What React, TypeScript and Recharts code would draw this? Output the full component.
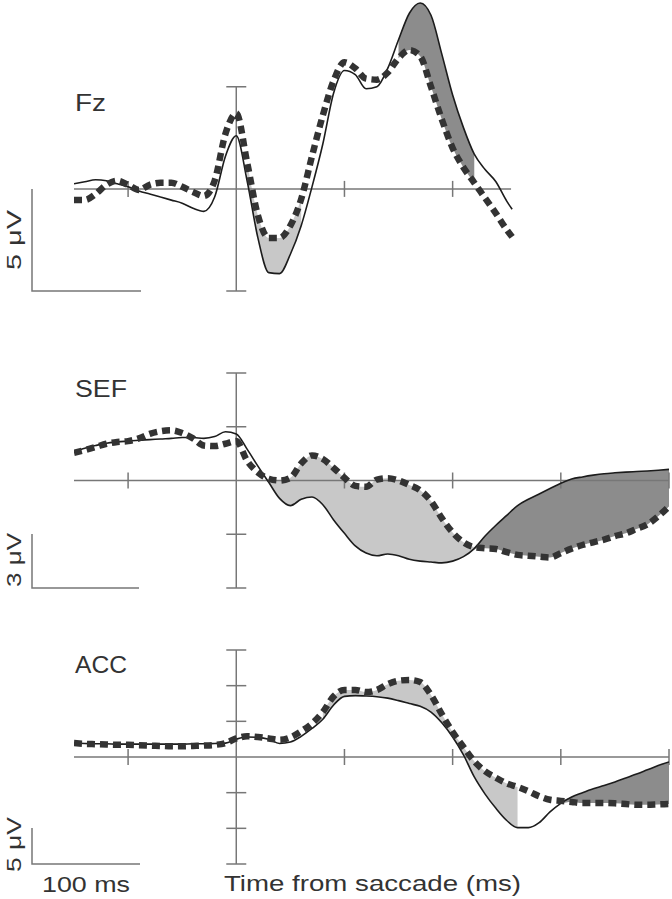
import { Area, ComposedChart, Line, ReferenceLine, XAxis, YAxis } from 'recharts';

// Time from saccade (ms), values in µV.
const FZ_TIME = [
  -150, -140, -130, -120, -110, -100, -90, -80, -70, -60, -50, -40, -30, -20, -10, 0, 10, 20, 30, 40, 50,
  60, 70, 80, 90, 100, 110, 120, 130, 140, 150, 160, 170, 180, 190, 200, 210, 220, 230, 240, 250, 255,
];
const FZ_SOLID = [
  0.25, 0.35, 0.45, 0.4, 0.25, 0.1, -0.1, -0.25, -0.4, -0.55, -0.7, -0.95, -1.1, -0.4, 1.6, 2.6, 0.4, -2.4,
  -4.1, -4.15, -3.2, -1.8, 0.1, 2.2, 4.7, 5.8, 5.6, 4.9, 5.0, 5.9, 7.3, 8.6, 9.1, 8.5, 6.6, 4.6, 3.0, 1.7,
  0.95, 0.35, -0.6, -1.0,
];
const FZ_DASHED = [
  -0.54, -0.54, -0.25, 0.2, 0.4, 0.2, -0.05, 0.2, 0.3, 0.3, 0.1, -0.15, -0.35, 0.4, 2.7, 3.7, 1.3, -1.3,
  -2.4, -2.4, -1.8, -0.5, 1.6, 3.6, 5.3, 6.2, 5.9, 5.4, 5.35, 5.7, 6.4, 6.8, 6.5, 5.0, 3.4, 2.0, 1.05, 0.3,
  -0.45, -1.2, -2.0, -2.35,
];

const TIME = [
  -150, -140, -130, -120, -110, -100, -90, -80, -70, -60, -50, -40, -30, -20, -10, 0, 10, 20, 30, 40, 50,
  60, 70, 80, 90, 100, 110, 120, 130, 140, 150, 160, 170, 180, 190, 200, 210, 220, 230, 240, 250, 260, 270,
  280, 290, 300, 310, 320, 330, 340, 350, 360, 370, 380, 390, 400,
];
const SEF_SOLID = [
  1.6, 1.8, 1.95, 2.08, 2.15, 2.2, 2.25, 2.28, 2.32, 2.35, 2.4, 2.4, 2.35, 2.45, 2.72, 2.6, 1.75, 0.8, -0.1,
  -1.0, -1.4, -1.05, -0.92, -1.35, -2.2, -2.95, -3.65, -4.05, -4.2, -4.1, -4.2, -4.4, -4.5, -4.55, -4.6,
  -4.5, -4.25, -3.8, -3.1, -2.5, -1.95, -1.4, -1.05, -0.75, -0.45, -0.15, 0.08, 0.2, 0.3, 0.38, 0.43, 0.47,
  0.5, 0.53, 0.57, 0.62,
];
const SEF_DASHED = [
  1.55, 1.7, 1.87, 2.05, 2.15, 2.2, 2.35, 2.6, 2.75, 2.8, 2.65, 2.35, 1.95, 1.92, 2.05, 2.2, 1.1, 0.45, 0.1,
  0.0, 0.15, 0.95, 1.4, 1.2, 0.7, 0.15, -0.3, -0.35, 0.05, 0.12, 0.0, -0.25, -0.55, -1.15, -2.1, -2.9,
  -3.45, -3.72, -3.78, -3.82, -4.0, -4.15, -4.2, -4.25, -4.3, -4.05, -3.8, -3.6, -3.45, -3.3, -3.1, -2.95,
  -2.7, -2.45, -2.0, -1.45,
];
const ACC_SOLID = [
  1.95, 1.9, 1.85, 1.85, 1.8, 1.8, 1.8, 1.8, 1.8, 1.8, 1.8, 1.85, 1.85, 1.9, 1.95, 2.5, 2.8, 2.75, 2.5, 1.9,
  2.1, 2.9, 4.0, 5.3, 7.3, 8.5, 8.6, 8.55, 8.45, 8.25, 7.9, 7.5, 7.1, 6.3, 4.8, 2.8, 0.3, -2.8, -5.2, -7.2,
  -8.9, -9.9, -9.9, -9.2, -7.7, -6.5, -5.6, -5.0, -4.45, -4.0, -3.5, -2.95, -2.4, -1.8, -1.2, -0.7,
];
const ACC_DASHED = [
  1.95, 1.85, 1.8, 1.75, 1.7, 1.7, 1.65, 1.6, 1.55, 1.5, 1.5, 1.55, 1.6, 1.7, 1.95, 2.6, 2.9, 2.8, 2.6, 2.4,
  2.75, 3.6, 4.7, 6.3, 8.5, 9.4, 9.4, 9.1, 9.4, 10.2, 10.7, 10.8, 10.5, 8.7, 6.0, 3.5, 1.4, -0.6, -2.0,
  -2.9, -3.7, -4.2, -4.8, -5.5, -6.0, -6.15, -6.3, -6.45, -6.45, -6.45, -6.5, -6.6, -6.7, -6.7, -6.65, -6.6,
];

// shaded time windows [from, to] in ms
const FZ_LIGHT: [number, number] = [10, 60];
const FZ_DARK: [number, number] = [150, 220];
const SEF_LIGHT: [number, number] = [30, 220];
const SEF_DARK: [number, number] = [220, 400];
const ACC_LIGHT: [number, number] = [80, 260];
const ACC_DARK: [number, number] = [300, 400];

const X_TICKS = [-100, 100, 200, 300, 400];

const W = 672;
const H = 899;
const AXIS = '#777';
const INK = '#333';

type Row = { t: number; solid: number; dashed: number; light: number[] | null; dark: number[] | null };

function buildRows(
  time: number[],
  solid: number[],
  dashed: number[],
  light: [number, number],
  dark: [number, number],
): Row[] {
  return time.map((t, i) => {
    const band = [Math.min(solid[i], dashed[i]), Math.max(solid[i], dashed[i])];
    return {
      t,
      solid: solid[i],
      dashed: dashed[i],
      light: t >= light[0] && t <= light[1] ? band : null,
      dark: t >= dark[0] && t <= dark[1] ? band : null,
    };
  });
}

type PanelProps = {
  rows: Row[];
  top: number;
  bottom: number;
  yDomain: [number, number];
  yTicks: number[];
  xEnd: number;
  xTicks: number[];
};

function Panel({ rows, top, bottom, yDomain, yTicks, xEnd, xTicks }: PanelProps) {
  const pxPerUnitY = (bottom - top) / (yDomain[1] - yDomain[0]);
  const tickY = 8 / pxPerUnitY;
  const tickX = 10 / (595 / 550);
  return (
    <div style={{ position: 'absolute', left: 0, top: 0 }}>
      <ComposedChart
        width={W}
        height={H}
        data={rows}
        margin={{ top, bottom: H - bottom, left: 74, right: 3 }}
      >
        <XAxis type="number" dataKey="t" domain={[-150, 400]} hide allowDataOverflow />
        <YAxis type="number" domain={yDomain} hide allowDataOverflow />
        <Area
          type="monotone"
          dataKey="light"
          fill="#c8c8c8"
          fillOpacity={1}
          stroke="none"
          isAnimationActive={false}
        />
        <Area
          type="monotone"
          dataKey="dark"
          fill="#8c8c8c"
          fillOpacity={1}
          stroke="none"
          isAnimationActive={false}
        />
        <ReferenceLine
          segment={[{ x: -150, y: 0 }, { x: xEnd, y: 0 }]}
          stroke={AXIS}
          strokeWidth={1.5}
        />
        {xTicks.map((t) => (
          <ReferenceLine
            key={'x' + t}
            segment={[{ x: t, y: -tickY }, { x: t, y: tickY }]}
            stroke={AXIS}
            strokeWidth={1.5}
          />
        ))}
        <ReferenceLine
          segment={[{ x: 0, y: yTicks[0] }, { x: 0, y: yTicks[yTicks.length - 1] }]}
          stroke={AXIS}
          strokeWidth={1.5}
        />
        {yTicks.map((v) => (
          <ReferenceLine
            key={'y' + v}
            segment={[{ x: -tickX, y: v }, { x: tickX, y: v }]}
            stroke={AXIS}
            strokeWidth={1.5}
          />
        ))}
        <Line
          type="monotone"
          dataKey="solid"
          stroke="#1c1c1c"
          strokeWidth={1.6}
          dot={false}
          isAnimationActive={false}
        />
        <Line
          type="monotone"
          dataKey="dashed"
          stroke="#333"
          strokeWidth={6.5}
          strokeDasharray="8 5"
          dot={false}
          isAnimationActive={false}
        />
      </ComposedChart>
    </div>
  );
}

const textStyle = { fontFamily: 'Liberation Sans, Arial, sans-serif', fill: INK };

export default function App() {
  const fz = buildRows(FZ_TIME, FZ_SOLID, FZ_DASHED, FZ_LIGHT, FZ_DARK);
  const sef = buildRows(TIME, SEF_SOLID, SEF_DASHED, SEF_LIGHT, SEF_DARK);
  const acc = buildRows(TIME, ACC_SOLID, ACC_DASHED, ACC_LIGHT, ACC_DARK);

  return (
    <div style={{ position: 'absolute', left: 0, top: 0, width: W, height: H, background: '#fff' }}>
      <Panel rows={fz} top={1} bottom={291} yDomain={[-5, 9.2]} yTicks={[-5, 5]} xEnd={254} xTicks={[-100, 100, 200]} />
      <Panel rows={sef} top={373} bottom={588} yDomain={[-6, 6]} yTicks={[-6, -3, 3, 6]} xEnd={400} xTicks={X_TICKS} />
      <Panel
        rows={acc}
        top={650}
        bottom={864}
        yDomain={[-15, 15]}
        yTicks={[-15, -10, -5, 5, 10, 15]}
        xEnd={400}
        xTicks={X_TICKS}
      />
      <svg width={W} height={H} style={{ position: 'absolute', left: 0, top: 0, pointerEvents: 'none' }}>
        <g fill="none" stroke={AXIS} strokeWidth={1.5}>
          <path d="M32 189 V291 H141" />
          <path d="M32 534 V588 H139" />
          <path d="M32 828 V864 H140" />
        </g>
        <text x={75} y={111} fontSize={23} textLength={31} lengthAdjust="spacingAndGlyphs" style={textStyle}>
          Fz
        </text>
        <text x={75} y={397} fontSize={23} textLength={52} lengthAdjust="spacingAndGlyphs" style={textStyle}>
          SEF
        </text>
        <text x={75} y={673} fontSize={23} textLength={52} lengthAdjust="spacingAndGlyphs" style={textStyle}>
          ACC
        </text>
        <text
          transform="translate(21 270) rotate(-90)"
          fontSize={21}
          textLength={60}
          lengthAdjust="spacingAndGlyphs"
          style={textStyle}
        >
          5 μV
        </text>
        <text
          transform="translate(21 587) rotate(-90)"
          fontSize={21}
          textLength={54}
          lengthAdjust="spacingAndGlyphs"
          style={textStyle}
        >
          3 μV
        </text>
        <text
          transform="translate(21 872) rotate(-90)"
          fontSize={21}
          textLength={55}
          lengthAdjust="spacingAndGlyphs"
          style={textStyle}
        >
          5 μV
        </text>
        <text x={42} y={892} fontSize={22} textLength={88} lengthAdjust="spacingAndGlyphs" style={textStyle}>
          100 ms
        </text>
        <text x={224} y={891} fontSize={22} textLength={297} lengthAdjust="spacingAndGlyphs" style={textStyle}>
          Time from saccade (ms)
        </text>
      </svg>
    </div>
  );
}
